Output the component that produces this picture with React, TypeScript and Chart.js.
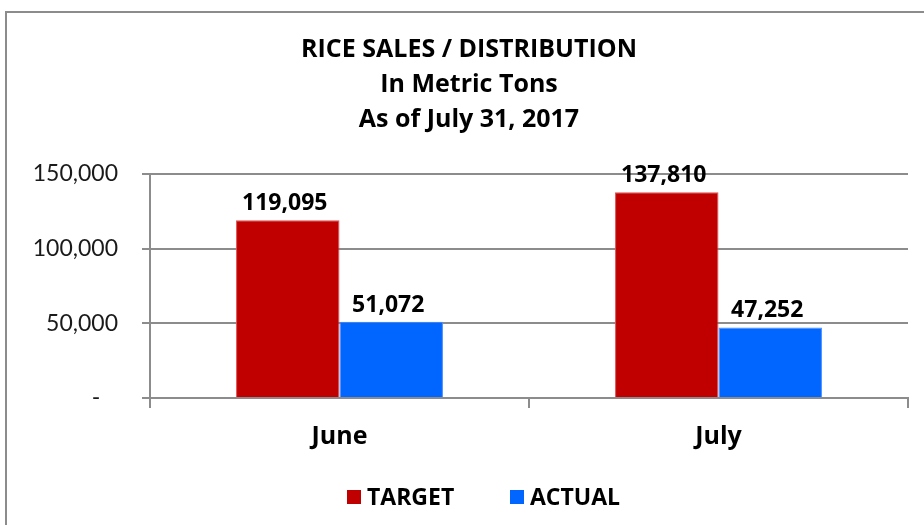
import React, { useEffect, useRef } from "react";
import { Chart, registerables } from "chart.js";

Chart.register(...registerables);

const categories = ["June", "July"];
const targetValues = [119095, 137810];
const actualValues = [51072, 47252];
const seriesNames = ["TARGET", "ACTUAL"];
const titleLines = ["RICE SALES / DISTRIBUTION", "In Metric Tons", "As of July 31, 2017"];
const yTicks = [0, 50000, 100000, 150000];

const BOLD_FONT = "'Open Sans', sans-serif";
const TICK_FONT = "Lato, 'Open Sans', sans-serif";

const fmt = (v: number) => (v === 0 ? "-   " : v.toLocaleString("en-US"));

const labelPlugin = {
  id: "barLabels",
  afterDatasetsDraw(chart: any) {
    const ctx = chart.ctx;
    ctx.save();
    ctx.font = `bold 23px ${BOLD_FONT}`;
    ctx.fillStyle = "#000";
    ctx.textAlign = "center";
    ctx.textBaseline = "alphabetic";
    chart.data.datasets.forEach((ds: any, i: number) => {
      const meta = chart.getDatasetMeta(i);
      meta.data.forEach((bar: any, j: number) => {
        ctx.fillText(ds.data[j].toLocaleString("en-US"), bar.x - 3, bar.y - 10);
      });
    });
    ctx.restore();
  },
};

const legendPlugin = {
  id: "customLegend",
  afterDraw(chart: any) {
    const ctx = chart.ctx;
    ctx.save();
    ctx.font = `bold 23px ${BOLD_FONT}`;
    ctx.textBaseline = "middle";
    ctx.textAlign = "left";
    const cy = 497;
    const starts = [347, 510];
    chart.data.datasets.forEach((ds: any, i: number) => {
      const x = starts[i];
      ctx.fillStyle = ds.backgroundColor;
      ctx.fillRect(x, cy - 7, 14, 14);
      ctx.fillStyle = "#000";
      ctx.fillText(ds.label, x + 20, cy + 1);
    });
    ctx.restore();
  },
};

const borderPlugin = {
  id: "outerBorder",
  beforeDraw(chart: any) {
    const ctx = chart.ctx;
    ctx.save();
    ctx.fillStyle = "#fff";
    ctx.fillRect(0, 0, chart.width, chart.height);
    ctx.strokeStyle = "#8c8c8c";
    ctx.lineWidth = 2;
    ctx.strokeRect(6, 12, chart.width + 20, chart.height + 20);
    ctx.restore();
  },
};

export default function App() {
  const ref = useRef<HTMLCanvasElement>(null);
  useEffect(() => {
    if (!ref.current) return;
    const chart = new Chart(ref.current, {
      type: "bar",
      data: {
        labels: categories,
        datasets: [
          {
            label: seriesNames[0],
            data: targetValues,
            backgroundColor: "#C00000",
            borderColor: "#E05050",
            borderWidth: 1,
            categoryPercentage: 0.546,
            barPercentage: 1,
          },
          {
            label: seriesNames[1],
            data: actualValues,
            backgroundColor: "#0066FF",
            borderColor: "#4A8CFF",
            borderWidth: 1,
            categoryPercentage: 0.546,
            barPercentage: 1,
          },
        ],
      },
      options: {
        animation: false,
        responsive: false,
        devicePixelRatio: 1,
        layout: { padding: { left: 30, right: 16, top: 18, bottom: 58 } },
        plugins: {
          title: {
            display: true,
            text: titleLines,
            color: "#000",
            font: { family: BOLD_FONT, size: 25, weight: "bold", lineHeight: "35px" },
            padding: { top: 14, bottom: 37 },
          },
          legend: { display: false },
          tooltip: { enabled: false },
        },
        scales: {
          x: {
            afterFit: (axis: any) => {
              axis.height = 69;
            },
            grid: {
              display: true,
              drawOnChartArea: false,
              drawTicks: true,
              tickLength: 10,
              color: "#8c8c8c",
              lineWidth: 2,
            },
            border: { color: "#8c8c8c", width: 2 },
            ticks: {
              color: "#000",
              font: { family: BOLD_FONT, size: 25, weight: "bold" },
              padding: 14,
            },
          },
          y: {
            min: 0,
            max: 150000,
            afterBuildTicks: (axis: any) => {
              axis.ticks = yTicks.map((v) => ({ value: v }));
            },
            afterFit: (axis: any) => {
              axis.width = 120;
            },
            grid: {
              color: "#8c8c8c",
              lineWidth: 2,
              tickLength: 8,
            },
            border: { color: "#8c8c8c", width: 2 },
            ticks: {
              color: "#1a1a1a",
              font: { family: TICK_FONT, size: 23 },
              padding: 24,
              callback: (v: any) => fmt(Number(v)),
            },
          },
        },
      },
      plugins: [borderPlugin, labelPlugin, legendPlugin],
    });
    return () => chart.destroy();
  }, []);
  return (
    <div style={{ position: "absolute", left: 0, top: 0, width: 924, height: 525 }}>
      <canvas ref={ref} width={924} height={525} style={{ width: 924, height: 525 }} />
    </div>
  );
}
